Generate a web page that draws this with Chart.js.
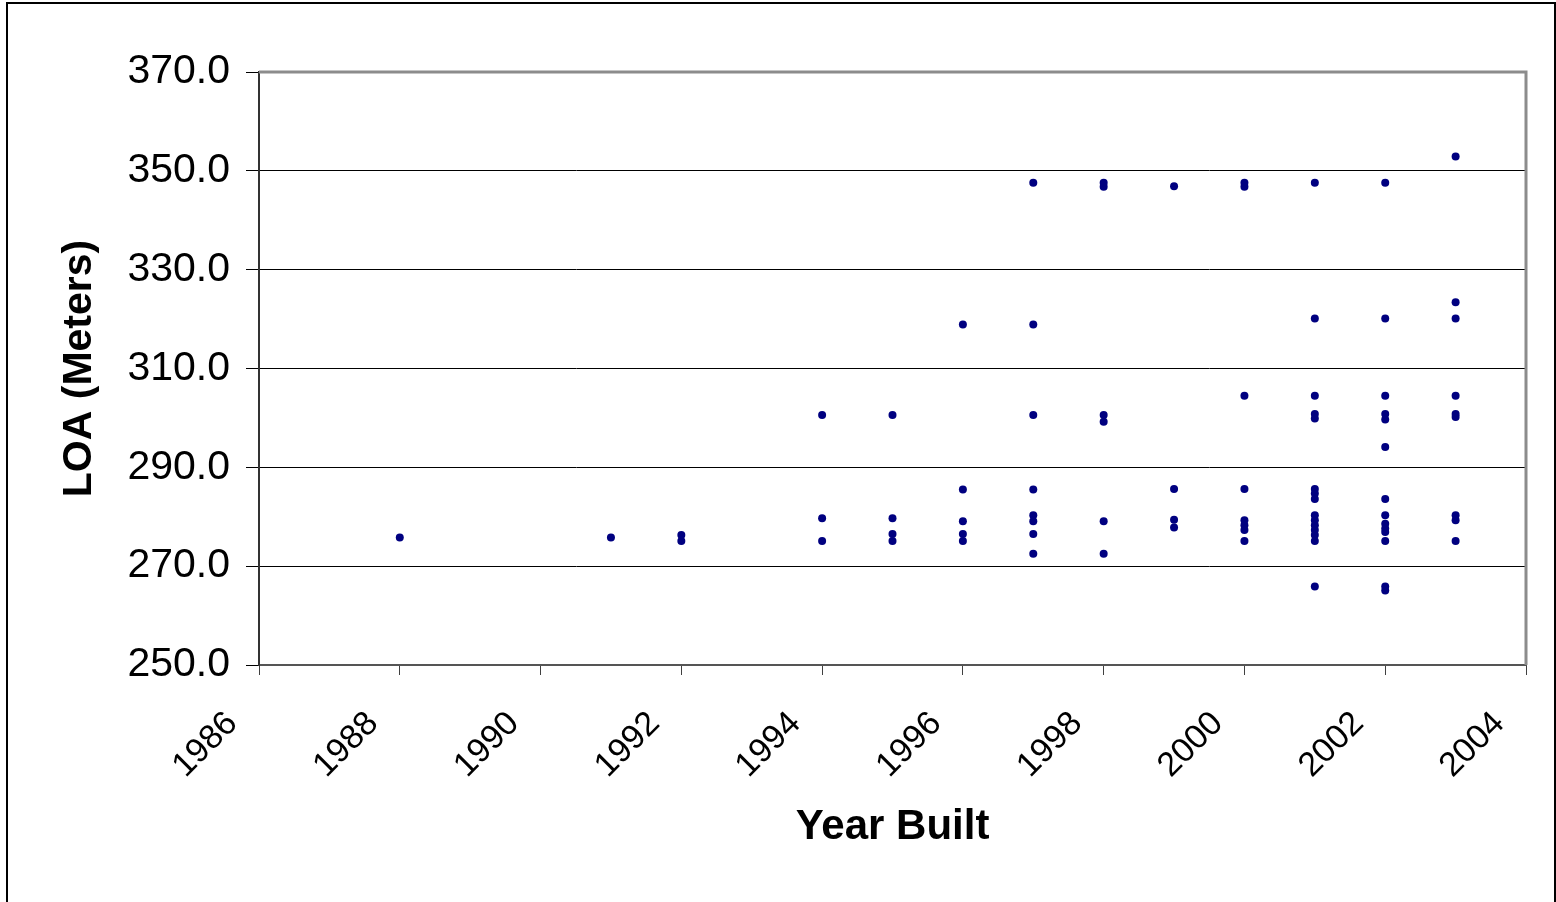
<!DOCTYPE html>
<html>
<head>
<meta charset="utf-8">
<script src="https://cdn.jsdelivr.net/npm/chart.js@4.4.0/dist/chart.umd.min.js"></script>
<style>
    html, body { margin: 0; padding: 0; background: #ffffff; }
    #wrap { width: 1556px; height: 902px; position: relative; }
</style>
</head>
<body>
<div id="wrap"><canvas id="loaChart" width="1556" height="902"></canvas></div>
<script>
// Length overall of each vessel against the year it was built
const yearBuilt = [
    1988,
    1991,
    1992, 1992,
    1994, 1994, 1994,
    1995, 1995, 1995, 1995,
    1996, 1996, 1996, 1996, 1996,
    1997, 1997, 1997, 1997, 1997, 1997, 1997, 1997,
    1998, 1998, 1998, 1998, 1998, 1998,
    1999, 1999, 1999, 1999,
    2000, 2000, 2000, 2000, 2000, 2000, 2000, 2000,
    2001, 2001, 2001, 2001, 2001, 2001, 2001, 2001, 2001, 2001, 2001, 2001, 2001, 2001, 2001,
    2002, 2002, 2002, 2002, 2002, 2002, 2002, 2002, 2002, 2002, 2002, 2002, 2002, 2002,
    2003, 2003, 2003, 2003, 2003, 2003, 2003, 2003, 2003
];
const loaMeters = [
    275.8,
    275.8,
    276.3, 275.1,
    300.6, 279.7, 275.1,
    300.6, 279.7, 276.5, 275.1,
    318.9, 285.5, 279.1, 276.5, 275.1,
    347.6, 318.9, 300.6, 285.5, 280.3, 279.1, 276.5, 272.5,
    347.6, 346.8, 300.6, 299.2, 279.1, 272.5,
    346.9, 285.6, 279.4, 277.8,
    347.6, 346.8, 304.5, 285.6, 279.3, 278.3, 277.3, 275.1,
    347.6, 320.1, 304.5, 300.8, 299.9, 285.6, 284.7, 283.6, 280.3, 279.3, 278.3, 277.3, 276.3, 275.1, 265.9,
    347.6, 320.1, 304.5, 300.8, 299.7, 294.1, 283.6, 280.3, 278.6, 277.6, 276.9, 275.1, 265.9, 265.1,
    352.9, 323.4, 320.1, 304.5, 300.8, 300.2, 280.3, 279.3, 275.1
];

const yearTicks = [1986, 1988, 1990, 1992, 1994, 1996, 1998, 2000, 2002, 2004];
const loaTicks = [250, 270, 290, 310, 330, 350, 370];

const points = yearBuilt.map((yr, i) => ({ x: yr, y: loaMeters[i] }));

const FONT = 'Liberation Sans, Arial, sans-serif';

// outer frame plus the grey top/right edge of the plot box
const framePlugin = {
    id: 'frame',
    beforeDraw(chart) {
        const ctx = chart.ctx;
        ctx.save();
        ctx.fillStyle = '#ffffff';
        ctx.fillRect(0, 0, chart.width, chart.height);
        ctx.strokeStyle = '#000000';
        ctx.lineWidth = 2;
        ctx.strokeRect(7, 3, 1548, 905);
        ctx.restore();
    },
    afterDraw(chart) {
        const a = chart.chartArea;
        const ctx = chart.ctx;
        ctx.save();
        ctx.strokeStyle = '#8c8c8c';
        ctx.lineWidth = 3;
        ctx.beginPath();
        ctx.moveTo(a.left, a.top);
        ctx.lineTo(a.right, a.top);
        ctx.lineTo(a.right, a.bottom);
        ctx.stroke();
        ctx.restore();
    }
};

const ctx = document.getElementById('loaChart').getContext('2d');
new Chart(ctx, {
    type: 'scatter',
    data: {
        datasets: [{
            label: 'LOA',
            data: points,
            backgroundColor: '#000080',
            borderColor: '#000080',
            pointRadius: 4,
            pointHoverRadius: 4,
            pointBorderWidth: 0
        }]
    },
    options: {
        responsive: false,
        animation: false,
        events: [],
        layout: {
            padding: { left: 8, top: 72, right: 30, bottom: 49 }
        },
        plugins: {
            legend: { display: false },
            tooltip: { enabled: false }
        },
        scales: {
            x: {
                type: 'linear',
                min: yearTicks[0],
                max: yearTicks[yearTicks.length - 1],
                afterBuildTicks: (scale) => { scale.ticks = yearTicks.map(v => ({ value: v })); },
                afterFit: (scale) => {
                    scale.height = 188;
                    scale.paddingLeft = 0;
                    scale.paddingRight = 0;
                },
                ticks: {
                    autoSkip: false,
                    maxRotation: 45,
                    minRotation: 45,
                    padding: 2,
                    color: '#000000',
                    font: { family: FONT, size: 34 },
                    // trailing spaces push the slanted year back from its tick
                    callback: (v) => String(v) + '    '
                },
                grid: {
                    drawOnChartArea: false,
                    tickLength: 10,
                    color: '#404040',
                    lineWidth: 1
                },
                border: { color: '#555555', width: 2 },
                title: {
                    display: true,
                    text: 'Year Built',
                    color: '#000000',
                    padding: 0,
                    font: { family: FONT, size: 42, weight: 'bold' }
                }
            },
            y: {
                min: loaTicks[0],
                max: loaTicks[loaTicks.length - 1],
                afterBuildTicks: (scale) => { scale.ticks = loaTicks.map(v => ({ value: v })); },
                afterFit: (scale) => { scale.width = 251; },
                ticks: {
                    padding: 16,
                    color: '#000000',
                    font: { family: FONT, size: 41 },
                    callback: (v) => Number(v).toFixed(1)
                },
                grid: {
                    color: '#000000',
                    lineWidth: 1,
                    tickLength: 13
                },
                border: { color: '#333333', width: 2 },
                title: {
                    display: true,
                    text: 'LOA (Meters)',
                    color: '#000000',
                    padding: { top: 47, bottom: 0 },
                    font: { family: FONT, size: 41, weight: 'bold' }
                }
            }
        }
    },
    plugins: [framePlugin]
});
</script>
</body>
</html>
